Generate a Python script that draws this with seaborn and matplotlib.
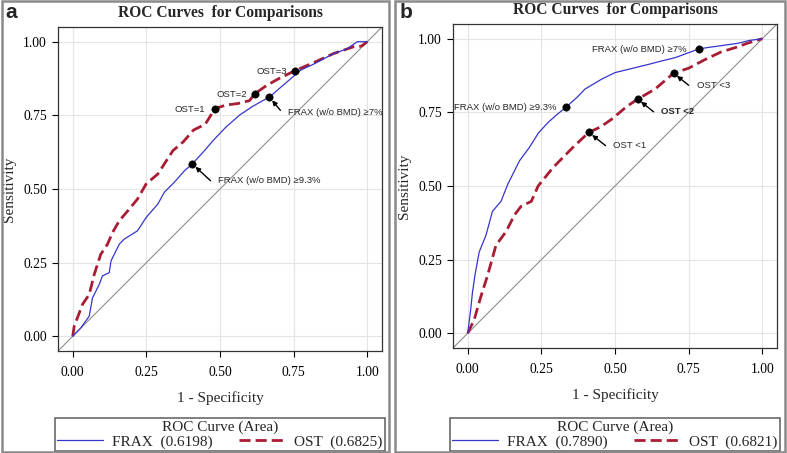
import numpy as np
import pandas as pd
import seaborn as sns
import matplotlib.pyplot as plt
from matplotlib.lines import Line2D
from matplotlib.patches import Rectangle

# ---- panel a: ROC points (1 - specificity, sensitivity)
a_frax_fpr = [0.0, 0.027, 0.056, 0.067, 0.09, 0.101, 0.124, 0.13, 0.158, 0.175, 0.22, 0.249, 0.289,
              0.311, 0.345, 0.38, 0.406, 0.448, 0.477, 0.52, 0.568, 0.61, 0.645, 0.668, 0.7, 0.735,
              0.773, 0.82, 0.886, 0.93, 0.966, 1.0]
a_frax_tpr = [0.0, 0.028, 0.068, 0.13, 0.176, 0.205, 0.216, 0.256, 0.3125, 0.33, 0.358, 0.403, 0.449,
              0.489, 0.523, 0.5625, 0.585, 0.631, 0.665, 0.71, 0.752, 0.78, 0.80, 0.812, 0.84, 0.87,
              0.903, 0.925, 0.96, 0.975, 1.0, 1.0]
a_ost_fpr = [0.0, 0.005, 0.033, 0.056, 0.073, 0.095, 0.118, 0.135, 0.158, 0.192, 0.22, 0.249, 0.289,
             0.34, 0.375, 0.41, 0.45, 0.483, 0.52, 0.56, 0.6, 0.619, 0.659, 0.7, 0.753, 0.82, 0.886,
             0.954, 0.98, 1.0]
a_ost_tpr = [0.0, 0.034, 0.108, 0.142, 0.21, 0.278, 0.3125, 0.352, 0.392, 0.432, 0.466, 0.517, 0.551,
             0.63, 0.66, 0.70, 0.72, 0.773, 0.785, 0.79, 0.80, 0.824, 0.852, 0.875, 0.901, 0.93, 0.96,
             0.983, 0.985, 1.0]

a_dot_x = [0.483, 0.619, 0.753, 0.668, 0.406]
a_dot_y = [0.773, 0.824, 0.901, 0.812, 0.585]
a_area = ["FRAX  (0.6198)", "OST  (0.6825)"]

# ---- panel b
b_frax_fpr = [0.0, 0.01, 0.016, 0.025, 0.039, 0.062, 0.084, 0.113, 0.136, 0.176, 0.21, 0.24, 0.273,
              0.3, 0.335, 0.37, 0.398, 0.455, 0.5, 0.545, 0.614, 0.66, 0.705, 0.786, 0.864, 0.92,
              0.955, 1.0]
b_frax_tpr = [0.0, 0.08, 0.138, 0.2, 0.276, 0.333, 0.414, 0.448, 0.506, 0.586, 0.632, 0.68, 0.716,
              0.74, 0.769, 0.8, 0.829, 0.863, 0.885, 0.896, 0.913, 0.925, 0.936, 0.966, 0.977, 0.985,
              0.994, 1.0]
b_ost_fpr = [0.0, 0.022, 0.045, 0.067, 0.096, 0.13, 0.159, 0.181, 0.216, 0.239, 0.29, 0.358, 0.411,
             0.45, 0.489, 0.54, 0.577, 0.636, 0.699, 0.75, 0.807, 0.86, 0.909, 0.95, 1.0]
b_ost_tpr = [0.0, 0.046, 0.126, 0.195, 0.299, 0.345, 0.402, 0.431, 0.448, 0.5, 0.563, 0.632, 0.682,
             0.70, 0.727, 0.77, 0.795, 0.829, 0.883, 0.90, 0.93, 0.955, 0.97, 0.985, 1.0]

b_dot_x = [0.786, 0.335, 0.699, 0.577, 0.411]
b_dot_y = [0.966, 0.769, 0.883, 0.795, 0.682]
b_area = ["FRAX  (0.7890)", "OST  (0.6821)"]

ticks = [0.0, 0.25, 0.5, 0.75, 1.0]
tick_labels = ["0.00", "0.25", "0.50", "0.75", "1.00"]

BLUE = "#3535cc"
RED = "#a81d33"
SERIF = "Liberation Serif"
SANS = "Liberation Sans"

sns.set_style("white")
plt.rcParams["font.family"] = [SERIF, "DejaVu Serif"]


def draw_panel(ax, frax_x, frax_y, ost_x, ost_y, dot_x, dot_y):
    ax.set_xlim(-0.05, 1.05)
    ax.set_ylim(-0.05, 1.05)
    for t in ticks:
        ax.axvline(t, color="#e4e4e4", lw=0.8, zorder=0)
        ax.axhline(t, color="#e4e4e4", lw=0.8, zorder=0)
    ax.plot([-0.05, 1.05], [-0.05, 1.05], color="#8c8c8c", lw=0.8, zorder=1)

    sns.lineplot(x=frax_x, y=frax_y, ax=ax, sort=False, estimator=None,
                 color=BLUE, lw=0.9, zorder=3)
    sns.lineplot(x=ost_x, y=ost_y, ax=ax, sort=False, estimator=None,
                 color=RED, lw=2.0, dashes=False, linestyle=(0, (4, 1.8)), zorder=2)
    sns.scatterplot(x=dot_x, y=dot_y, ax=ax, color="black", s=28,
                    edgecolor="black", zorder=5)

    ax.set_xticks(ticks)
    ax.set_xticklabels(tick_labels)
    ax.set_yticks(ticks)
    ax.set_yticklabels(tick_labels)
    ax.tick_params(axis="both", direction="out", length=4.5, width=0.8,
                   labelsize=9.8, colors="black", bottom=True, left=True)
    ax.tick_params(axis="x", pad=6)
    for s in ax.spines.values():
        s.set_color("#333333")
        s.set_linewidth(0.9)
    ax.set_xlabel("1 - Specificity", fontsize=11, labelpad=9)
    ax.set_ylabel("Sensitivity", fontsize=11, labelpad=5)
    ax.set_title("ROC Curves  for Comparisons", fontsize=11.2, fontweight="bold", pad=7)


def note(ax, text, xy, ha="left", bold=False):
    ax.text(xy[0], xy[1], text, fontsize=6.8, family=[SANS, "DejaVu Sans"],
            ha=ha, va="center", fontweight="bold" if bold else "normal", zorder=6)


def arrow(ax, tail, head):
    ax.annotate("", xy=head, xytext=tail,
                arrowprops=dict(arrowstyle="-|>", color="black", lw=1.0,
                                mutation_scale=7, shrinkA=0, shrinkB=3), zorder=6)


def legend_box(fig, ax, left, labels):
    handles = [Line2D([], [], color=BLUE, lw=0.9),
               Line2D([], [], color=RED, lw=2.0, linestyle=(0, (4, 1.8)))]
    leg = ax.legend(handles, labels, title="ROC Curve (Area)", ncol=2,
                    loc="lower left", bbox_to_anchor=(left, 0.004, 0.419, 0.086),
                    bbox_transform=fig.transFigure, mode="expand",
                    fontsize=11, title_fontsize=11, frameon=True, fancybox=False,
                    edgecolor="#444444", handlelength=3.0, handletextpad=0.6,
                    borderaxespad=0, borderpad=0.15, labelspacing=0.1, columnspacing=1.0)
    leg.get_frame().set_linewidth(1.2)


fig = plt.figure(figsize=(7.87, 4.53), dpi=100)
ax_a = fig.add_axes([0.0737, 0.2252, 0.4117, 0.7152])
ax_b = fig.add_axes([0.5756, 0.2318, 0.4117, 0.7152])

# panel a
draw_panel(ax_a, a_frax_fpr, a_frax_tpr, a_ost_fpr, a_ost_tpr, a_dot_x, a_dot_y)
note(ax_a, "OST=1", (0.449, 0.770), ha="right")
note(ax_a, "OST=2", (0.591, 0.822), ha="right")
note(ax_a, "OST=3", (0.728, 0.900), ha="right")
note(ax_a, "FRAX (w/o BMD) \u22657%", (0.732, 0.761))
note(ax_a, "FRAX (w/o BMD) \u22659.3%", (0.493, 0.528))
arrow(ax_a, (0.705, 0.767), (0.668, 0.812))
arrow(ax_a, (0.468, 0.528), (0.406, 0.585))
legend_box(fig, ax_a, 0.0699, a_area)

# panel b
draw_panel(ax_b, b_frax_fpr, b_frax_tpr, b_ost_fpr, b_ost_tpr, b_dot_x, b_dot_y)
note(ax_b, "FRAX (w/o BMD) \u22657%", (0.742, 0.962), ha="right")
note(ax_b, "FRAX (w/o BMD) \u22659.3%", (0.303, 0.765), ha="right")
note(ax_b, "OST <3", (0.778, 0.842))
note(ax_b, "OST <2", (0.656, 0.752), bold=True)
note(ax_b, "OST <1", (0.494, 0.637))
arrow(ax_b, (0.750, 0.842), (0.699, 0.883))
arrow(ax_b, (0.631, 0.752), (0.577, 0.795))
arrow(ax_b, (0.468, 0.637), (0.411, 0.682))
legend_box(fig, ax_b, 0.5718, b_area)

# panel frames and letters
for x0, w in [(0.002, 0.492), (0.502, 0.496)]:
    fig.patches.append(Rectangle((x0, 0.003), w, 0.994, transform=fig.transFigure,
                                 fill=False, edgecolor="#8a8a8a", lw=1.8))
fig.text(0.007, 0.972, "a", fontsize=15, fontweight="bold", family=[SANS], va="center")
fig.text(0.508, 0.972, "b", fontsize=15, fontweight="bold", family=[SANS], va="center")

fig.savefig("out.png", dpi=100)
